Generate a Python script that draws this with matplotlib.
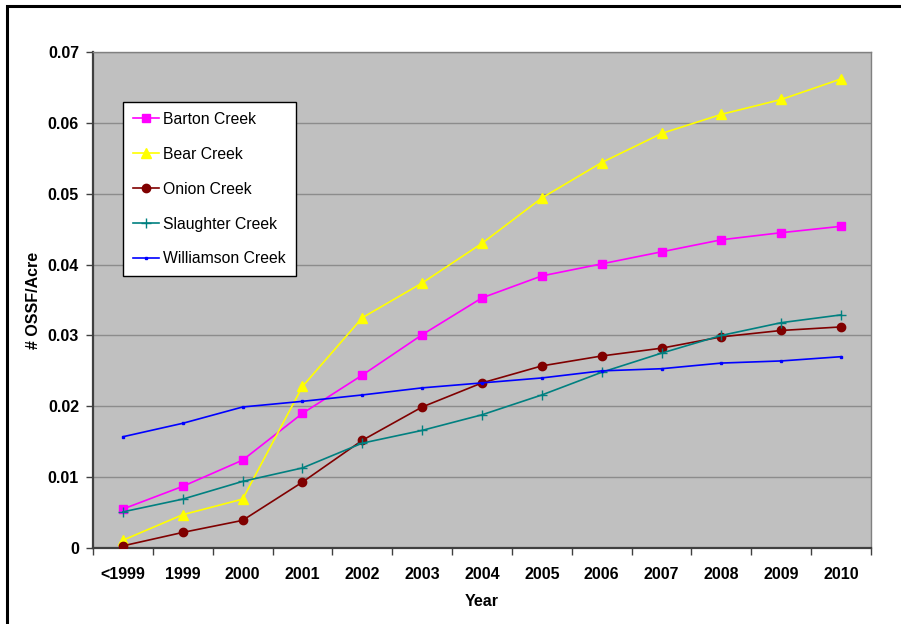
import matplotlib
matplotlib.use("Agg")
import matplotlib.pyplot as plt
from matplotlib.patches import Rectangle
from matplotlib.ticker import FixedLocator, NullFormatter

plt.rcParams['font.family'] = ['Liberation Sans', 'DejaVu Sans']

categories = ['<1999', '1999', '2000', '2001', '2002', '2003', '2004',
              '2005', '2006', '2007', '2008', '2009', '2010']

barton = [0.0055, 0.0087, 0.0124, 0.0190, 0.0244, 0.0301, 0.0353,
          0.0384, 0.0401, 0.0418, 0.0435, 0.0445, 0.0454]
bear = [0.0011, 0.0047, 0.0069, 0.0228, 0.0325, 0.0374, 0.0430,
        0.0494, 0.0544, 0.0585, 0.0612, 0.0633, 0.0662]
onion = [0.0003, 0.0022, 0.0039, 0.0093, 0.0152, 0.0199, 0.0233,
         0.0257, 0.0271, 0.0282, 0.0298, 0.0307, 0.0312]
slaughter = [0.0051, 0.0069, 0.0094, 0.0113, 0.0148, 0.0166, 0.0188,
             0.0216, 0.0248, 0.0275, 0.0300, 0.0318, 0.0329]
williamson = [0.0157, 0.0176, 0.0199, 0.0207, 0.0216, 0.0226, 0.0233,
              0.0240, 0.0250, 0.0253, 0.0261, 0.0264, 0.0270]

y_ticks = [0, 0.01, 0.02, 0.03, 0.04, 0.05, 0.06, 0.07]
y_tick_labels = ['0', '0.01', '0.02', '0.03', '0.04', '0.05', '0.06', '0.07']

fig = plt.figure(figsize=(9.01, 6.24), dpi=100)
fig.patch.set_facecolor('white')

# outer chart frame
fig.patches.append(Rectangle((7 / 901, -0.05), 1.2, 1 - 6 / 624 + 0.05,
                             transform=fig.transFigure, fill=False,
                             edgecolor='black', linewidth=2.2))

ax = fig.add_axes([93 / 901, 76 / 624, 778 / 901, 496 / 624])
ax.set_facecolor('#C0C0C0')

x = list(range(len(categories)))
series = [
    ('Barton Creek', barton, '#FF00FF', 's', 6.0),
    ('Bear Creek', bear, '#FFFF00', '^', 6.5),
    ('Onion Creek', onion, '#800000', 'o', 6.0),
    ('Slaughter Creek', slaughter, '#008080', '+', 7.0),
    ('Williamson Creek', williamson, '#0000FF', 's', 2.0),
]
for name, vals, color, marker, ms in series:
    ax.plot(x, vals, color=color, linewidth=1.2, marker=marker,
            markersize=ms, markerfacecolor=color, markeredgecolor=color,
            markeredgewidth=1.0, label=name, zorder=3)

ax.set_xlim(-0.5, len(categories) - 0.5)
ax.set_ylim(0, 0.07)

tick_fs = 11.5
ax.set_xticks(x)
ax.set_xticklabels(categories, fontsize=tick_fs, fontweight='bold')
ax.tick_params(axis='x', which='major', length=0, pad=14)
ax.xaxis.set_minor_locator(FixedLocator([i - 0.5 for i in range(len(categories) + 1)]))
ax.xaxis.set_minor_formatter(NullFormatter())
ax.tick_params(axis='x', which='minor', length=5, width=1, color='#404040', direction='out')

ax.set_yticks(y_ticks)
ax.set_yticklabels(y_tick_labels, fontsize=tick_fs, fontweight='bold')
ax.tick_params(axis='y', length=5, width=1, color='#404040', direction='out', pad=5)

ax.yaxis.grid(True, color='#8C8C8C', linewidth=1.0)
ax.set_axisbelow(True)

for side in ('left', 'bottom'):
    ax.spines[side].set_color('#404040')
    ax.spines[side].set_linewidth(1.6)
for side in ('top', 'right'):
    ax.spines[side].set_color('#808080')
    ax.spines[side].set_linewidth(1.0)

ax.set_xlabel('Year', fontsize=tick_fs, fontweight='bold', labelpad=8)
ax.set_ylabel('# OSSF/Acre', fontsize=tick_fs, fontweight='bold', labelpad=5)

leg = ax.legend(loc='upper left', bbox_to_anchor=(123 / 901, 1 - 102 / 624),
                bbox_transform=fig.transFigure, borderaxespad=0,
                fontsize=11.3, frameon=True, fancybox=False, framealpha=1,
                edgecolor='black', labelspacing=1.27, handlelength=1.7,
                handletextpad=0.25, borderpad=0.62)
leg.get_frame().set_linewidth(1.0)

fig.savefig('out.png', dpi=100, facecolor='white')
